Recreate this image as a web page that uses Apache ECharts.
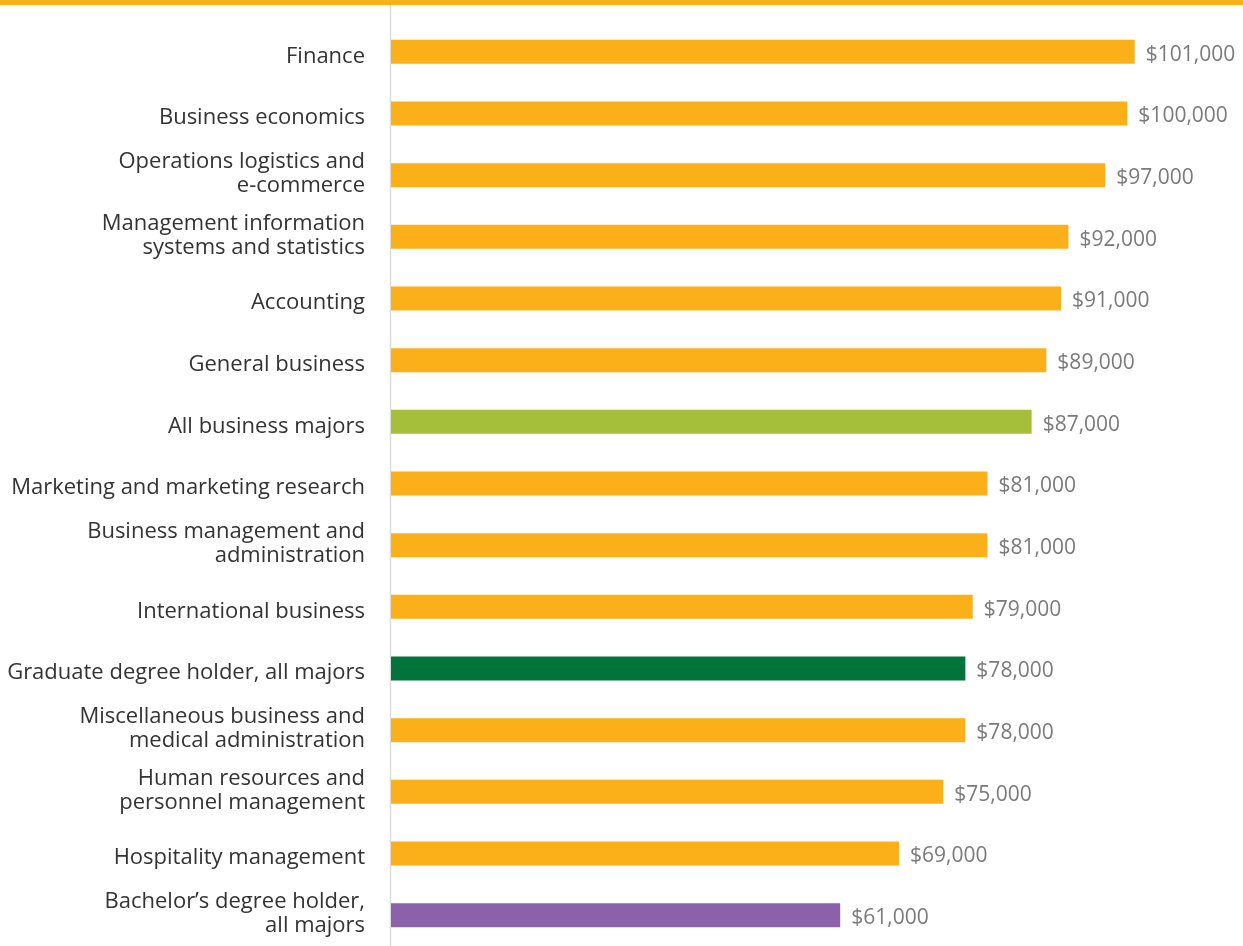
<!DOCTYPE html>
<html>
<head>
<meta charset="utf-8">
<script src="https://cdn.jsdelivr.net/npm/echarts@6/dist/echarts.min.js"></script>
<style>
  html, body { margin: 0; padding: 0; background: #fff; }
  #chart { width: 1243px; height: 946px; }
</style>
</head>
<body>
<div id="chart"></div>
<script>
var categories = [
    'Finance',
    'Business economics',
    'Operations logistics and\ne-commerce',
    'Management information\nsystems and statistics',
    'Accounting',
    'General business',
    'All business majors',
    'Marketing and marketing research',
    'Business management and\nadministration',
    'International business',
    'Graduate degree holder, all majors',
    'Miscellaneous business and\nmedical administration',
    'Human resources and\npersonnel management',
    'Hospitality management',
    'Bachelor\u2019s degree holder,\nall majors'
]
var salaries = [101000, 100000, 97000, 92000, 91000, 89000, 87000, 81000, 81000, 79000, 78000, 78000, 75000, 69000, 61000]
// which colour each bar takes
var barKinds = ['major', 'major', 'major', 'major', 'major', 'major', 'allBusiness', 'major', 'major', 'major', 'graduate', 'major', 'major', 'major', 'bachelor']

var kindColors = {
    major: '#fbb01a',
    allBusiness: '#a6bf3a',
    graduate: '#00743b',
    bachelor: '#8b62aa'
}

var chart = echarts.init(document.getElementById('chart'))
var font = '"Open Sans", sans-serif'

var barData = salaries.map(function(v, i) {
    return {
        value: v,
        itemStyle: { color: kindColors[barKinds[i]] }
    }
})

chart.setOption({
    animation: false,
    grid: {
        left: 391,
        right: 42,
        top: 21,
        bottom: 0
    },
    xAxis: {
        type: 'value',
        min: 0,
        max: 110000,
        show: false
    },
    yAxis: {
        type: 'category',
        data: categories,
        inverse: true,
        axisLine: { show: false },
        axisTick: { show: false },
        axisLabel: {
            margin: 26,
            fontFamily: font,
            fontSize: 22,
            lineHeight: 24,
            color: '#333',
            padding: [0, 0, 2, 0],
            // single lines sit a little low
            formatter: function(v) {
                if (v.indexOf('\n') < 0) return '{one|' + v + '}'
                return v
            },
            rich: {
                one: { fontFamily: font, fontSize: 22, color: '#333', padding: [11, 0, 0, 0] }
            }
        }
    },
    series: [{
        type: 'bar',
        data: barData,
        barWidth: 24,
        label: {
            show: true,
            position: 'right',
            distance: 11,
            offset: [0, 3],
            fontFamily: font,
            fontSize: 21,
            color: '#7a7a7a',
            formatter: function(p) {
                return '$' + p.value.toLocaleString('en-US')
            }
        }
    }],
    graphic: [{
        type: 'rect',
        shape: { x: 0, y: 0, width: 1243, height: 5 },
        style: { fill: '#fbb01a' }
    }, {
        type: 'line',
        shape: { x1: 390.5, y1: 5, x2: 390.5, y2: 946 },
        style: { stroke: '#dcdcdc', lineWidth: 1.5 }
    }]
})
</script>
</body>
</html>
